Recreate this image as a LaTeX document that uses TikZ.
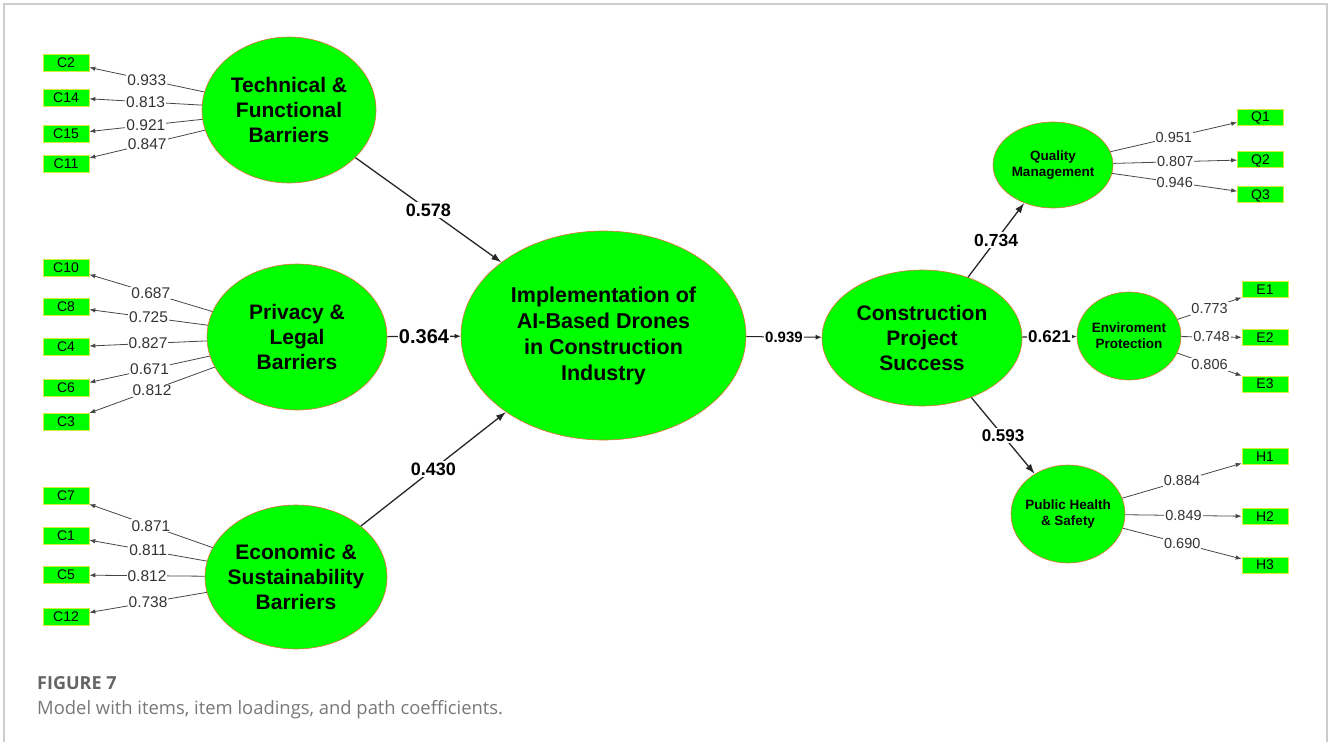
\documentclass[tikz,border=0pt]{standalone}
\usepackage{fontspec}
\setmainfont{Liberation Sans}
\newfontfamily\capfont{Open Sans}
\usetikzlibrary{shapes.geometric,arrows.meta}
\definecolor{lvgreen}{RGB}{0,255,0}
\definecolor{lvedge}{RGB}{225,110,60}
\definecolor{boxedge}{RGB}{215,235,60}
\definecolor{linegray}{RGB}{70,70,70}
\definecolor{framegray}{RGB}{205,205,205}
\definecolor{capgray}{RGB}{100,100,100}
\definecolor{captext}{RGB}{120,120,120}

\begin{document}
\begin{tikzpicture}[x=1pt,y=-1pt,
  latent/.style={ellipse, fill=lvgreen, draw=lvedge, line width=0.6pt, inner sep=0pt},
  bigtext/.style={align=center, inner sep=0pt, font=\bfseries\fontsize{21}{25}\selectfont},
  smalltext/.style={align=center, inner sep=0pt, font=\bfseries\fontsize{13.5}{16.5}\selectfont},
  item/.style={rectangle, fill=lvgreen, draw=boxedge, line width=0.6pt, minimum width=46pt,
    minimum height=17pt, inner sep=0pt, text height=9pt, text depth=0pt,
    font=\fontsize{14}{14}\selectfont},
  load/.style={draw=linegray, line width=0.8pt, -{Latex[length=6pt,width=4.5pt]}},
  loadlbl/.style={fill=white, inner sep=1pt, text=black!80, font=\fontsize{15.5}{15.5}\selectfont},
  rloadlbl/.style={loadlbl, font=\fontsize{14.5}{14.5}\selectfont},
  path/.style={draw=black!85, line width=1.3pt, -{Latex[length=10pt,width=7pt]}},
  shortpath/.style={draw=black!85, line width=1.1pt, -{Latex[length=6pt,width=5pt]}},
  pathlbl/.style={fill=white, inner sep=1.5pt, font=\bfseries\fontsize{18}{18}\selectfont},
]
\useasboundingbox (0,0) rectangle (1328,742);

% page frame
\draw[framegray, line width=1.5pt] (4,742) -- (4,4) -- (1327,4) -- (1327,742);

% latent constructs
\node[latent, minimum width=174pt, minimum height=146pt,
  label={[bigtext]center:Technical \&\\Functional\\Barriers}] (tech) at (289,110) {};
\node[latent, minimum width=180pt, minimum height=146pt,
  label={[bigtext]center:Privacy \&\\Legal\\Barriers}] (priv) at (297,337) {};
\node[latent, minimum width=182pt, minimum height=144pt,
  label={[bigtext]center:Economic \&\\Sustainability\\Barriers}] (econ) at (296,577) {};
\node[latent, minimum width=285pt, minimum height=209pt,
  label={[bigtext, font=\bfseries\fontsize{21.5}{26}\selectfont]center:Implementation of\\AI-Based Drones\\in Construction\\Industry}] (impl) at (603.5,335.5) {};
\node[latent, minimum width=200pt, minimum height=136pt,
  label={[bigtext]center:Construction\\Project\\Success}] (cps) at (922,338) {};
\node[latent, minimum width=120pt, minimum height=86pt,
  label={[smalltext]center:Quality\\Management}] (qm) at (1053,165) {};
\node[latent, minimum width=104pt, minimum height=88pt,
  label={[smalltext, font=\bfseries\fontsize{13.5}{16}\selectfont]center:Enviroment\\Protection}] (ep) at (1129,336) {};
\node[latent, minimum width=114pt, minimum height=98pt,
  label={[smalltext]center:Public Health\\\& Safety}] (phs) at (1068,514) {};

% indicators, left
\node[item] (c2)  at (66,62.5)  {C2};
\node[item] (c14) at (66,97.5)  {C14};
\node[item] (c15) at (66,134)   {C15};
\node[item] (c11) at (66,163.5) {C11};
\node[item] (c10) at (66,267.5) {C10};
\node[item] (c8)  at (66,306.5) {C8};
\node[item] (c4)  at (66,347)   {C4};
\node[item] (c6)  at (66,387.5) {C6};
\node[item] (c3)  at (66,421.5) {C3};
\node[item] (c7)  at (66,496)   {C7};
\node[item] (c1)  at (66,536)   {C1};
\node[item] (c5)  at (66,575)   {C5};
\node[item] (c12) at (66,616.5) {C12};

% indicators, right
\node[item, minimum height=16pt] (q1) at (1260.5,117)   {Q1};
\node[item, minimum height=16pt] (q2) at (1260.5,159.5) {Q2};
\node[item, minimum height=16pt] (q3) at (1260.5,194.5) {Q3};
\node[item, minimum height=16pt] (e1) at (1265,289.5) {E1};
\node[item, minimum height=16pt] (e2) at (1265,337.5) {E2};
\node[item, minimum height=16pt] (e3) at (1265,384)   {E3};
\node[item, minimum height=16pt] (h1) at (1265,456.5) {H1};
\node[item, minimum height=16pt] (h2) at (1265,516.5) {H2};
\node[item, minimum height=16pt] (h3) at (1265,565)   {H3};

% item loadings
\draw[load] (tech) -- node[loadlbl]{0.933} (c2);
\draw[load] (tech) -- node[loadlbl]{0.813} (c14);
\draw[load] (tech) -- node[loadlbl]{0.921} (c15);
\draw[load] (tech) -- node[loadlbl]{0.847} (c11);
\draw[load] (priv) -- node[loadlbl]{0.687} (c10);
\draw[load] (priv) -- node[loadlbl]{0.725} (c8);
\draw[load] (priv) -- node[loadlbl]{0.827} (c4);
\draw[load] (priv) -- node[loadlbl]{0.671} (c6);
\draw[load] (priv) -- node[loadlbl]{0.812} (c3);
\draw[load] (econ) -- node[loadlbl]{0.871} (c7);
\draw[load] (econ) -- node[loadlbl]{0.811} (c1);
\draw[load] (econ) -- node[loadlbl]{0.812} (c5);
\draw[load] (econ) -- node[loadlbl]{0.738} (c12);
\draw[load] (qm) -- node[rloadlbl]{0.951} (q1);
\draw[load] (qm) -- node[rloadlbl]{0.807} (q2);
\draw[load] (qm) -- node[rloadlbl]{0.946} (q3);
\draw[load] (ep) -- node[rloadlbl]{0.773} (e1);
\draw[load] (ep) -- node[rloadlbl]{0.748} (e2);
\draw[load] (ep) -- node[rloadlbl]{0.806} (e3);
\draw[load] (phs) -- node[rloadlbl]{0.884} (h1);
\draw[load] (phs) -- node[rloadlbl]{0.849} (h2);
\draw[load] (phs) -- node[rloadlbl]{0.690} (h3);

% path coefficients
\draw[path] (tech) -- node[pathlbl]{0.578} (impl);
\draw[shortpath] (priv) -- node[pathlbl, font=\bfseries\fontsize{20}{20}\selectfont, inner sep=1pt]{0.364} (impl);
\draw[path] (econ) -- node[pathlbl]{0.430} (impl);
\draw[shortpath, line width=1pt] (impl) -- node[pathlbl, font=\bfseries\fontsize{15}{15}\selectfont, inner sep=1pt]{0.939} (cps);
\draw[path] (cps) -- node[pathlbl, font=\bfseries\fontsize{17.5}{17.5}\selectfont]{0.734} (qm);
\draw[shortpath] (cps) -- node[pathlbl, font=\bfseries\fontsize{17}{17}\selectfont, inner sep=1pt]{0.621} (ep);
\draw[path] (cps) -- node[pathlbl, font=\bfseries\fontsize{17}{17}\selectfont]{0.593} (phs);

% caption
\node[anchor=base west, inner sep=0pt, text=capgray,
  font=\capfont\bfseries\fontsize{18}{18}\selectfont] (fignum) at (37,689) {FIGURE 7};
\node[anchor=base west, inner sep=0pt, text=captext,
  font=\capfont\fontsize{18.4}{18.4}\selectfont] (figcap) at (37,714)
  {Model with items, item loadings, and path coefficients.};
\end{tikzpicture}
\end{document}
